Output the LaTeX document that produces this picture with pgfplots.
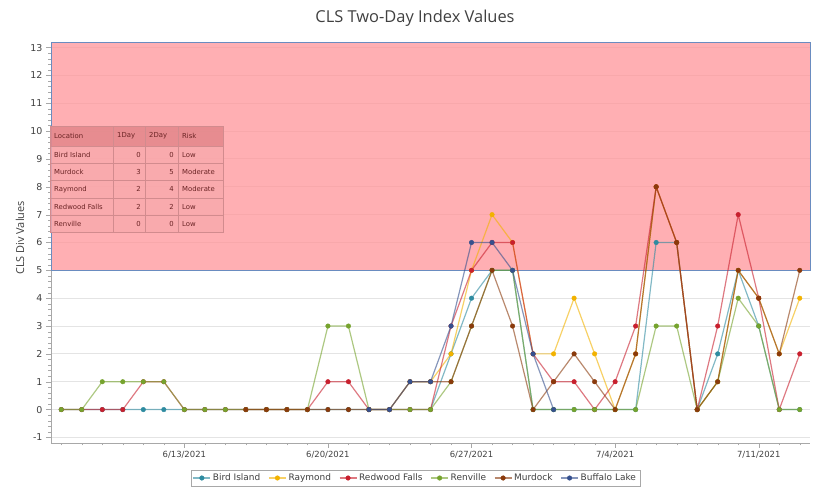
\documentclass[border=0pt]{standalone}
\usepackage{pgfplots}
\pgfplotsset{compat=1.18}
\usepackage{fontspec}
\setmainfont{DejaVu Sans}
\newfontfamily\titlefont{Open Sans}
\definecolor{cBI}{HTML}{2E8BA0}
\definecolor{cRA}{HTML}{F2B200}
\definecolor{cRF}{HTML}{C8202E}
\definecolor{cRE}{HTML}{76A32E}
\definecolor{cMU}{HTML}{8A3A0C}
\definecolor{cBL}{HTML}{36508E}
\definecolor{axisgray}{HTML}{A8A8A8}
\definecolor{gridgray}{HTML}{E4E4E4}
\definecolor{labelgray}{HTML}{404040}
\definecolor{bandpink}{HTML}{FF9499}
\definecolor{bandblue}{HTML}{6A8CC0}
\definecolor{tabhead}{HTML}{E4898D}
\definecolor{tabbody}{HTML}{F8A9AC}
\definecolor{tabline}{HTML}{D28B8E}
\definecolor{tabtext}{HTML}{6A2424}
\pgfplotsset{
  ser/.style={color=#1, line width=1.2bp, draw opacity=0.6, mark=*, mark size=2.3bp,
    mark options={draw opacity=1, fill opacity=1, solid, line width=0.4bp}},
}
\begin{document}
\begin{tikzpicture}[x=1bp,y=1bp]
\useasboundingbox (-51,-44) rectangle (762,443);
\begin{axis}[
  at={(0,0)}, anchor=south west,
  scale only axis, width=759bp, height=401bp,
  xmin=-0.5, xmax=36.5, ymin=-1.2, ymax=13.2,
  axis lines*=left,
  axis line style={draw=axisgray, -},
  xtick={6,13,20,27,34},
  xticklabels={6/13/2021,6/20/2021,6/27/2021,7/4/2021,7/11/2021},
  minor xtick={0,...,36},
  ytick={-1,0,...,13}, minor y tick num=4,
  tick align=outside, major tick length=5bp, minor tick length=2.5bp,
  tick style={draw=axisgray},
  ymajorgrids, major grid style={draw=gridgray, line width=0.9bp},
  /pgf/number format/assume math mode=true,
  xticklabel style={font=\fontsize{8.5}{10}\selectfont, text=labelgray},
  yticklabel style={font=\fontsize{9.5}{11}\selectfont, text=labelgray},
  legend style={at={(0.4800,-0.0873)}, anchor=center, draw=axisgray,
    font=\fontsize{9}{10}\selectfont, text=labelgray, inner sep=2bp,
    /tikz/every even column/.append style={column sep=6bp}},
  legend columns=6,
  clip=false,
]
\addplot[fill=bandpink, fill opacity=0.75, draw=bandblue, line width=0.8bp, forget plot]
  coordinates {(-0.5,5) (36.5,5) (36.5,13.2) (-0.5,13.2)} -- cycle;

\addplot[ser=cBI] table {
x y
0 0
1 0
2 0
3 0
4 0
5 0
6 0
7 0
8 0
9 0
10 0
11 0
12 0
13 0
14 0
15 0
16 0
17 0
18 0
19 2
20 4
21 5
22 5
23 0
24 0
25 0
26 0
27 0
28 0
29 6
30 6
31 0
32 2
33 5
34 3
35 0
36 0
};
\addlegendentry{Bird Island}

\addplot[ser=cRA] table {
x y
15 0
16 0
17 1
18 1
19 2
20 5
21 7
22 6
23 2
24 2
25 4
26 2
27 0
28 2
29 8
30 6
31 0
32 1
33 5
34 4
35 2
36 4
};
\addlegendentry{Raymond}

\addplot[ser=cRF] table {
x y
0 0
1 0
2 0
3 0
4 1
5 1
6 0
7 0
8 0
9 0
10 0
11 0
12 0
13 1
14 1
15 0
16 0
17 0
18 0
19 3
20 5
21 6
22 6
23 2
24 1
25 1
26 0
27 1
28 3
29 8
30 6
31 0
32 3
33 7
34 4
35 0
36 2
};
\addlegendentry{Redwood Falls}

\addplot[ser=cRE] table {
x y
0 0
1 0
2 1
3 1
4 1
5 1
6 0
7 0
8 0
9 0
10 0
11 0
12 0
13 3
14 3
15 0
16 0
17 0
18 0
19 1
20 3
21 5
22 5
23 0
24 0
25 0
26 0
27 0
28 0
29 3
30 3
31 0
32 1
33 4
34 3
35 0
36 0
};
\addlegendentry{Renville}

\addplot[ser=cMU] table {
x y
9 0
10 0
11 0
12 0
13 0
14 0
15 0
16 0
17 1
18 1
19 1
20 3
21 5
22 3
23 0
24 1
25 2
26 1
27 0
28 2
29 8
30 6
31 0
32 1
33 5
34 4
35 2
36 5
};
\addlegendentry{Murdock}

\addplot[ser=cBL] table {
x y
15 0
16 0
17 1
18 1
19 3
20 6
21 6
22 5
23 2
24 0
};
\addlegendentry{Buffalo Lake}
\end{axis}

% title and axis label
\node[font=\titlefont\fontsize{16.5}{18}\selectfont, text=labelgray] at (364,425) {CLS Two-Day Index Values};
\node[font=\titlefont\fontsize{11}{13}\selectfont, text=labelgray, rotate=90] at (-31,205) {CLS Div Values};

% risk table
\fill[tabbody, fill opacity=0.8] (-1,210.3) rectangle (172,297);
\fill[tabhead, fill opacity=0.9] (-1,297) rectangle (172,317);
\draw[tabline, line width=0.6bp] (-1,210.3) rectangle (172,317);
\foreach \yy in {297,279.7,262.3,245,227.7} {\draw[tabline, line width=0.5bp] (-1,\yy) -- (172,\yy);}
\foreach \xx in {62,94,127} {\draw[tabline, line width=0.5bp] (\xx,210.3) -- (\xx,317);}
\begin{scope}[every node/.style={font=\fontsize{6.9}{8}\selectfont, text=tabtext, inner sep=0pt}]
\node[anchor=west] at (3,307) {Location};
\node[anchor=west] at (66,307) {1Day};
\node[anchor=west] at (98,307) {2Day};
\node[anchor=west] at (131,307) {Risk};
\foreach \yy/\loc/\a/\b/\r in {288.3/Bird Island/0/0/Low, 271/Murdock/3/5/Moderate, 253.7/Raymond/2/4/Moderate, 236.3/Redwood Falls/2/2/Low, 219/Renville/0/0/Low} {
  \node[anchor=west] at (3,\yy) {\loc};
  \node[anchor=east] at (90,\yy) {\a};
  \node[anchor=east] at (123,\yy) {\b};
  \node[anchor=west] at (131,\yy) {\r};
}
\end{scope}
\end{tikzpicture}
\end{document}
